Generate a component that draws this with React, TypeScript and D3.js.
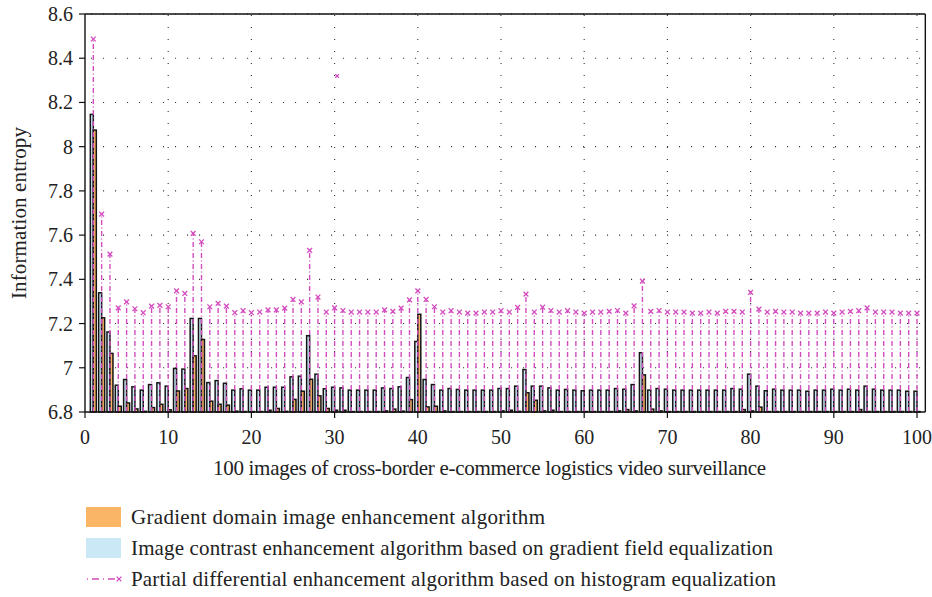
import React from 'react';
import * as d3 from 'd3';

// ---- data ----
const imageIds: number[] = d3.range(1, 101);

const gradientDomain: number[] = [
  8.075, 7.226, 7.065, 6.826, 6.841, 6.814, 6.803, 6.82, 6.835, 6.81,
  6.895, 6.906, 7.054, 7.128, 6.849, 6.835, 6.831, 6.804, 6.802, 6.802,
  6.802, 6.808, 6.816, 6.803, 6.857, 6.894, 6.948, 6.873, 6.816, 6.808,
  6.808, 6.802, 6.802, 6.802, 6.802, 6.805, 6.813, 6.804, 6.856, 7.242,
  6.823, 6.826, 6.805, 6.802, 6.802, 6.802, 6.802, 6.802, 6.802, 6.805,
  6.808, 6.803, 6.887, 6.853, 6.805, 6.808, 6.802, 6.802, 6.802, 6.802,
  6.802, 6.802, 6.802, 6.805, 6.811, 6.805, 6.968, 6.813, 6.805, 6.802,
  6.802, 6.802, 6.802, 6.802, 6.802, 6.802, 6.802, 6.802, 6.811, 6.805,
  6.822, 6.802, 6.802, 6.802, 6.802, 6.802, 6.802, 6.802, 6.802, 6.802,
  6.802, 6.802, 6.811, 6.802, 6.802, 6.802, 6.802, 6.802, 6.802, 6.802,
];

const contrastGradientField: number[] = [
  8.146, 7.339, 7.162, 6.921, 6.947, 6.914, 6.899, 6.924, 6.932, 6.917,
  6.997, 6.994, 7.223, 7.223, 6.933, 6.942, 6.930, 6.899, 6.905, 6.899,
  6.899, 6.912, 6.912, 6.912, 6.959, 6.962, 7.145, 6.971, 6.905, 6.912,
  6.909, 6.899, 6.899, 6.899, 6.899, 6.909, 6.906, 6.914, 6.956, 7.119,
  6.947, 6.924, 6.899, 6.906, 6.902, 6.899, 6.899, 6.899, 6.899, 6.906,
  6.906, 6.917, 6.992, 6.917, 6.917, 6.909, 6.899, 6.902, 6.899, 6.896,
  6.899, 6.899, 6.899, 6.906, 6.903, 6.924, 7.068, 6.899, 6.906, 6.903,
  6.899, 6.899, 6.899, 6.899, 6.899, 6.899, 6.899, 6.906, 6.903, 6.971,
  6.917, 6.896, 6.903, 6.899, 6.899, 6.899, 6.894, 6.899, 6.899, 6.903,
  6.899, 6.903, 6.899, 6.917, 6.903, 6.899, 6.899, 6.899, 6.894, 6.894,
];

const partialDifferential: number[] = [
  8.487, 7.695, 7.514, 7.271, 7.298, 7.267, 7.249, 7.279, 7.282, 7.276,
  7.348, 7.336, 7.608, 7.570, 7.276, 7.291, 7.279, 7.249, 7.258, 7.249,
  7.252, 7.262, 7.262, 7.270, 7.309, 7.298, 7.531, 7.320, 7.252, 7.271,
  7.259, 7.252, 7.252, 7.252, 7.252, 7.262, 7.255, 7.270, 7.307, 7.348,
  7.309, 7.276, 7.252, 7.258, 7.252, 7.247, 7.247, 7.252, 7.252, 7.258,
  7.252, 7.273, 7.333, 7.252, 7.274, 7.259, 7.252, 7.258, 7.252, 7.247,
  7.252, 7.252, 7.255, 7.259, 7.247, 7.280, 7.392, 7.255, 7.259, 7.252,
  7.252, 7.252, 7.247, 7.247, 7.252, 7.247, 7.255, 7.255, 7.252, 7.341,
  7.265, 7.252, 7.255, 7.252, 7.252, 7.247, 7.247, 7.247, 7.252, 7.247,
  7.252, 7.255, 7.258, 7.271, 7.252, 7.252, 7.252, 7.247, 7.247, 7.247,
];

// stray marker of the partial-differential series
const strayMarkerX: number[] = [30.3];
const strayMarkerY: number[] = [8.32];

const xTicks: number[] = [0, 10, 20, 30, 40, 50, 60, 70, 80, 90, 100];
const yTicks: number[] = [6.8, 7, 7.2, 7.4, 7.6, 7.8, 8, 8.2, 8.4, 8.6];

const seriesNames: string[] = [
  'Gradient domain image enhancement algorithm',
  'Image contrast enhancement algorithm based on gradient field equalization',
  'Partial differential enhancement algorithm based on histogram equalization',
];
const xTitle = '100 images of cross-border e-commerce logistics video surveillance';
const yTitle = 'Information entropy';

// ---- style ----
const ORANGE = '#fbb567';
const BLUE = '#cbe8f6';
const MAGENTA = '#d34cbf';
const FONT = '"Liberation Serif", "DejaVu Serif", serif';
const FS = 20;
const FS_T = 21;

const W = 932;
const H = 597;
const M = { left: 85, top: 14, bottom: 185 };

export default function App() {
  const x = d3.scaleLinear().domain([0, 101]).range([M.left, M.left + 8.32 * 101]);
  const y = d3.scaleLinear().domain([6.8, 8.6]).range([H - M.bottom, M.top]);
  const x0 = x(0);
  const x1 = x(101);
  const y0 = y(6.8);
  const yTop = y(8.6);
  const bw = x(0.36) - x(0);

  const marker = (cx: number, cy: number, key: string, s = 2.4) => (
    <g key={key} stroke={MAGENTA} strokeWidth={1.3}>
      <line x1={cx - s} y1={cy - s} x2={cx + s} y2={cy + s} />
      <line x1={cx - s} y1={cy + s} x2={cx + s} y2={cy - s} />
    </g>
  );

  return (
    <svg
      width={W}
      height={H}
      style={{ position: 'absolute', left: 0, top: 0, background: '#fff' }}
      fontFamily={FONT}
    >
      {/* grid */}
      <g stroke="#333" strokeWidth={1.1} strokeDasharray="1.1,10.9">
        {yTicks.filter((t) => t > 6.8).map((t) => (
          <line key={'gy' + t} x1={x0 + 6} x2={x1} y1={y(t)} y2={y(t)} />
        ))}
        {xTicks.filter((t) => t > 0).map((t) => (
          <line key={'gx' + t} x1={x(t)} x2={x(t)} y1={y0} y2={yTop} />
        ))}
      </g>

      {/* bars */}
      <g stroke="#151515" strokeWidth={1.5}>
        {imageIds.map((id, i) => (
          <rect
            key={'b' + id}
            x={x(id) - bw}
            y={y(contrastGradientField[i])}
            width={bw}
            height={y0 - y(contrastGradientField[i])}
            fill={BLUE}
          />
        ))}
        {imageIds.map((id, i) => (
          <rect
            key={'o' + id}
            x={x(id)}
            y={y(gradientDomain[i])}
            width={bw}
            height={Math.max(0, y0 - y(gradientDomain[i]))}
            fill={ORANGE}
          />
        ))}
      </g>

      {/* stems */}
      <g stroke={MAGENTA} strokeWidth={1.4} strokeDasharray="5,2.5,1,2.5">
        {imageIds.map((id, i) => (
          <line
            key={'s' + id}
            x1={x(id)}
            x2={x(id)}
            y1={y0}
            y2={y(partialDifferential[i])}
          />
        ))}
      </g>
      {imageIds.map((id, i) => marker(x(id), y(partialDifferential[i]), 'm' + id))}
      {strayMarkerX.map((sx, i) => marker(x(sx), y(strayMarkerY[i]), 'st' + i, 1.8))}

      {/* frame */}
      <g stroke="#111" strokeWidth={1.4} fill="none">
        <line x1={x0} x2={x0} y1={y0} y2={yTop} />
        <line x1={x0} x2={x1} y1={y0} y2={y0} />
        <line x1={x1} x2={x1} y1={y0} y2={yTop} />
        <line x1={x0} x2={x1} y1={yTop} y2={yTop} />
      </g>

      {/* y ticks */}
      {yTicks.map((t) => (
        <g key={'yt' + t}>
          <line x1={x0 - 6} x2={x0} y1={y(t)} y2={y(t)} stroke="#111" strokeWidth={1.2} />
          <text x={x0 - 12} y={y(t)} dy="0.35em" textAnchor="end" fontSize={FS} fill="#222">
            {t.toString()}
          </text>
        </g>
      ))}

      {/* x ticks */}
      {xTicks.map((t) => (
        <g key={'xt' + t}>
          <line x1={x(t)} x2={x(t)} y1={y0} y2={y0 + 6} stroke="#111" strokeWidth={1.2} />
          <text x={x(t)} y={y0 + 32} textAnchor="middle" fontSize={FS} fill="#222">
            {t}
          </text>
        </g>
      ))}

      {/* axis titles */}
      <text x={213} y={y0 + 63} fontSize={FS_T} fill="#222" textLength={553} lengthAdjust="spacing">
        {xTitle}
      </text>
      <text
        transform={`translate(26, ${(y0 + yTop) / 2}) rotate(-90)`}
        textAnchor="middle"
        fontSize={FS_T}
        fill="#222"
        textLength={172}
        lengthAdjust="spacing"
      >
        {yTitle}
      </text>

      {/* legend */}
      <g fontSize={FS_T} fill="#222">
        <rect x={86} y={507} width={35} height={20} fill={ORANGE} />
        <text x={131} y={517} dy="0.35em" textLength={414} lengthAdjust="spacing">{seriesNames[0]}</text>
        <rect x={86} y={538} width={35} height={20} fill={BLUE} />
        <text x={131} y={548} dy="0.35em" textLength={642} lengthAdjust="spacing">{seriesNames[1]}</text>
        <line x1={87} x2={116} y1={579} y2={579} stroke={MAGENTA} strokeWidth={1.3} strokeDasharray="1,4,7,4" />
        {marker(119, 579, 'lg')}
        <text x={131} y={579} dy="0.35em" textLength={645} lengthAdjust="spacing">{seriesNames[2]}</text>
      </g>
    </svg>
  );
}
